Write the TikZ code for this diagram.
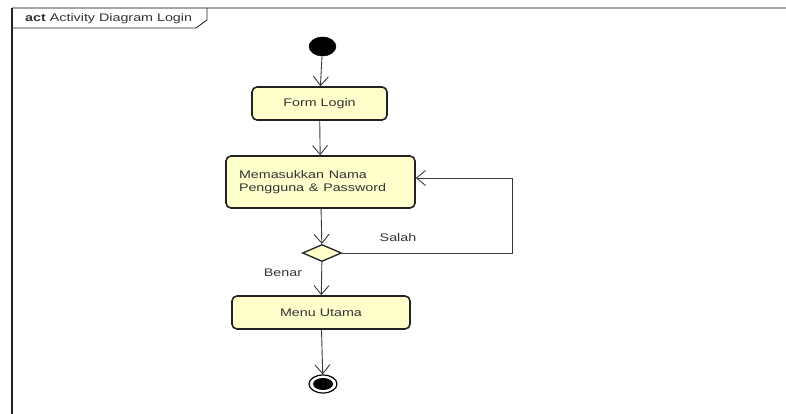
\documentclass[tikz,border=0pt]{standalone}
\usepackage{fontspec}
\setmainfont{Liberation Sans}
\usetikzlibrary{shapes.geometric,arrows.meta}
\definecolor{actfill}{HTML}{FFFFCC}
\definecolor{actline}{HTML}{222222}
\definecolor{flowline}{HTML}{3A3A3A}
\definecolor{txt}{HTML}{333333}
\newcommand{\wtxt}[1]{\scalebox{1.3}[1]{#1}}
\begin{document}
\begin{tikzpicture}[x=1pt,y=-1pt,
  every node/.style={font=\fontsize{11}{14}\selectfont, text=txt},
  action/.style={draw=actline, line width=1.6pt, fill=actfill, rounded corners=5pt,
    inner sep=0pt},
  flow/.style={draw=flowline, line width=0.9pt,
    -{Straight Barb[length=9pt,width=15pt,line width=0.9pt]}},
  decision/.style={diamond, draw=actline, line width=1.3pt, fill=actfill,
    minimum width=39pt, minimum height=17pt, inner sep=0pt},
  lbl/.style={inner sep=0pt}]
\useasboundingbox (0,0) rectangle (786,414);

% diagram frame with its name tab
\draw[draw=gray!70, line width=1.2pt] (12,8) -- (786,8);
\draw[draw=actline, line width=1.2pt] (12,8) -- (12,414);
\draw[draw=actline, line width=0.9pt] (12,28) -- (196,28) -- (207,20) -- (207,8);
\node[lbl, anchor=base west] (title) at (25,22) {\wtxt{\textbf{act} Activity Diagram Login}};

% activity nodes
\node[ellipse, fill=black, draw=black, minimum width=27pt, minimum height=19pt, inner sep=0pt]
  (init) at (322.5,46.5) {};
\node[action, minimum width=135pt, minimum height=33pt] (form) at (319.5,103.5) {\wtxt{Form Login}};
\node[action, minimum width=189pt, minimum height=52pt, text width=163pt, align=left,
  inner xsep=13pt] (input) at (320.5,182)
  {\wtxt{\begin{tabular}{@{}l@{}}Memasukkan Nama\\[-1pt]Pengguna \& Password\end{tabular}}};
\node[decision] (dec) at (322,253) {};
\node[action, minimum width=178pt, minimum height=33pt] (menu) at (321,312.5) {\wtxt{Menu Utama}};
\node[ellipse, draw=black, line width=1.2pt, fill=white, minimum width=28pt, minimum height=18pt,
  inner sep=0pt] (final) at (323,384) {};
\node[ellipse, fill=black, minimum width=20pt, minimum height=12pt, inner sep=0pt]
  (finalin) at (323,384) {};

% control flows
\coordinate (loopc) at (512,178);
\draw[flow] (init) -- (form);
\draw[flow] (form) -- (input);
\draw[flow] (input) -- (dec);
\draw[flow] (dec) -- (menu);
\draw[flow] (menu) -- (final);
\draw[flow] (dec.east) -- (dec.east -| loopc) -- (loopc) -- (input.east |- loopc);

% guard labels
\node[lbl] (salah) at (398,238) {\wtxt{Salah}};
\node[lbl] (benar) at (283,273) {\wtxt{Benar}};
\end{tikzpicture}
\end{document}
